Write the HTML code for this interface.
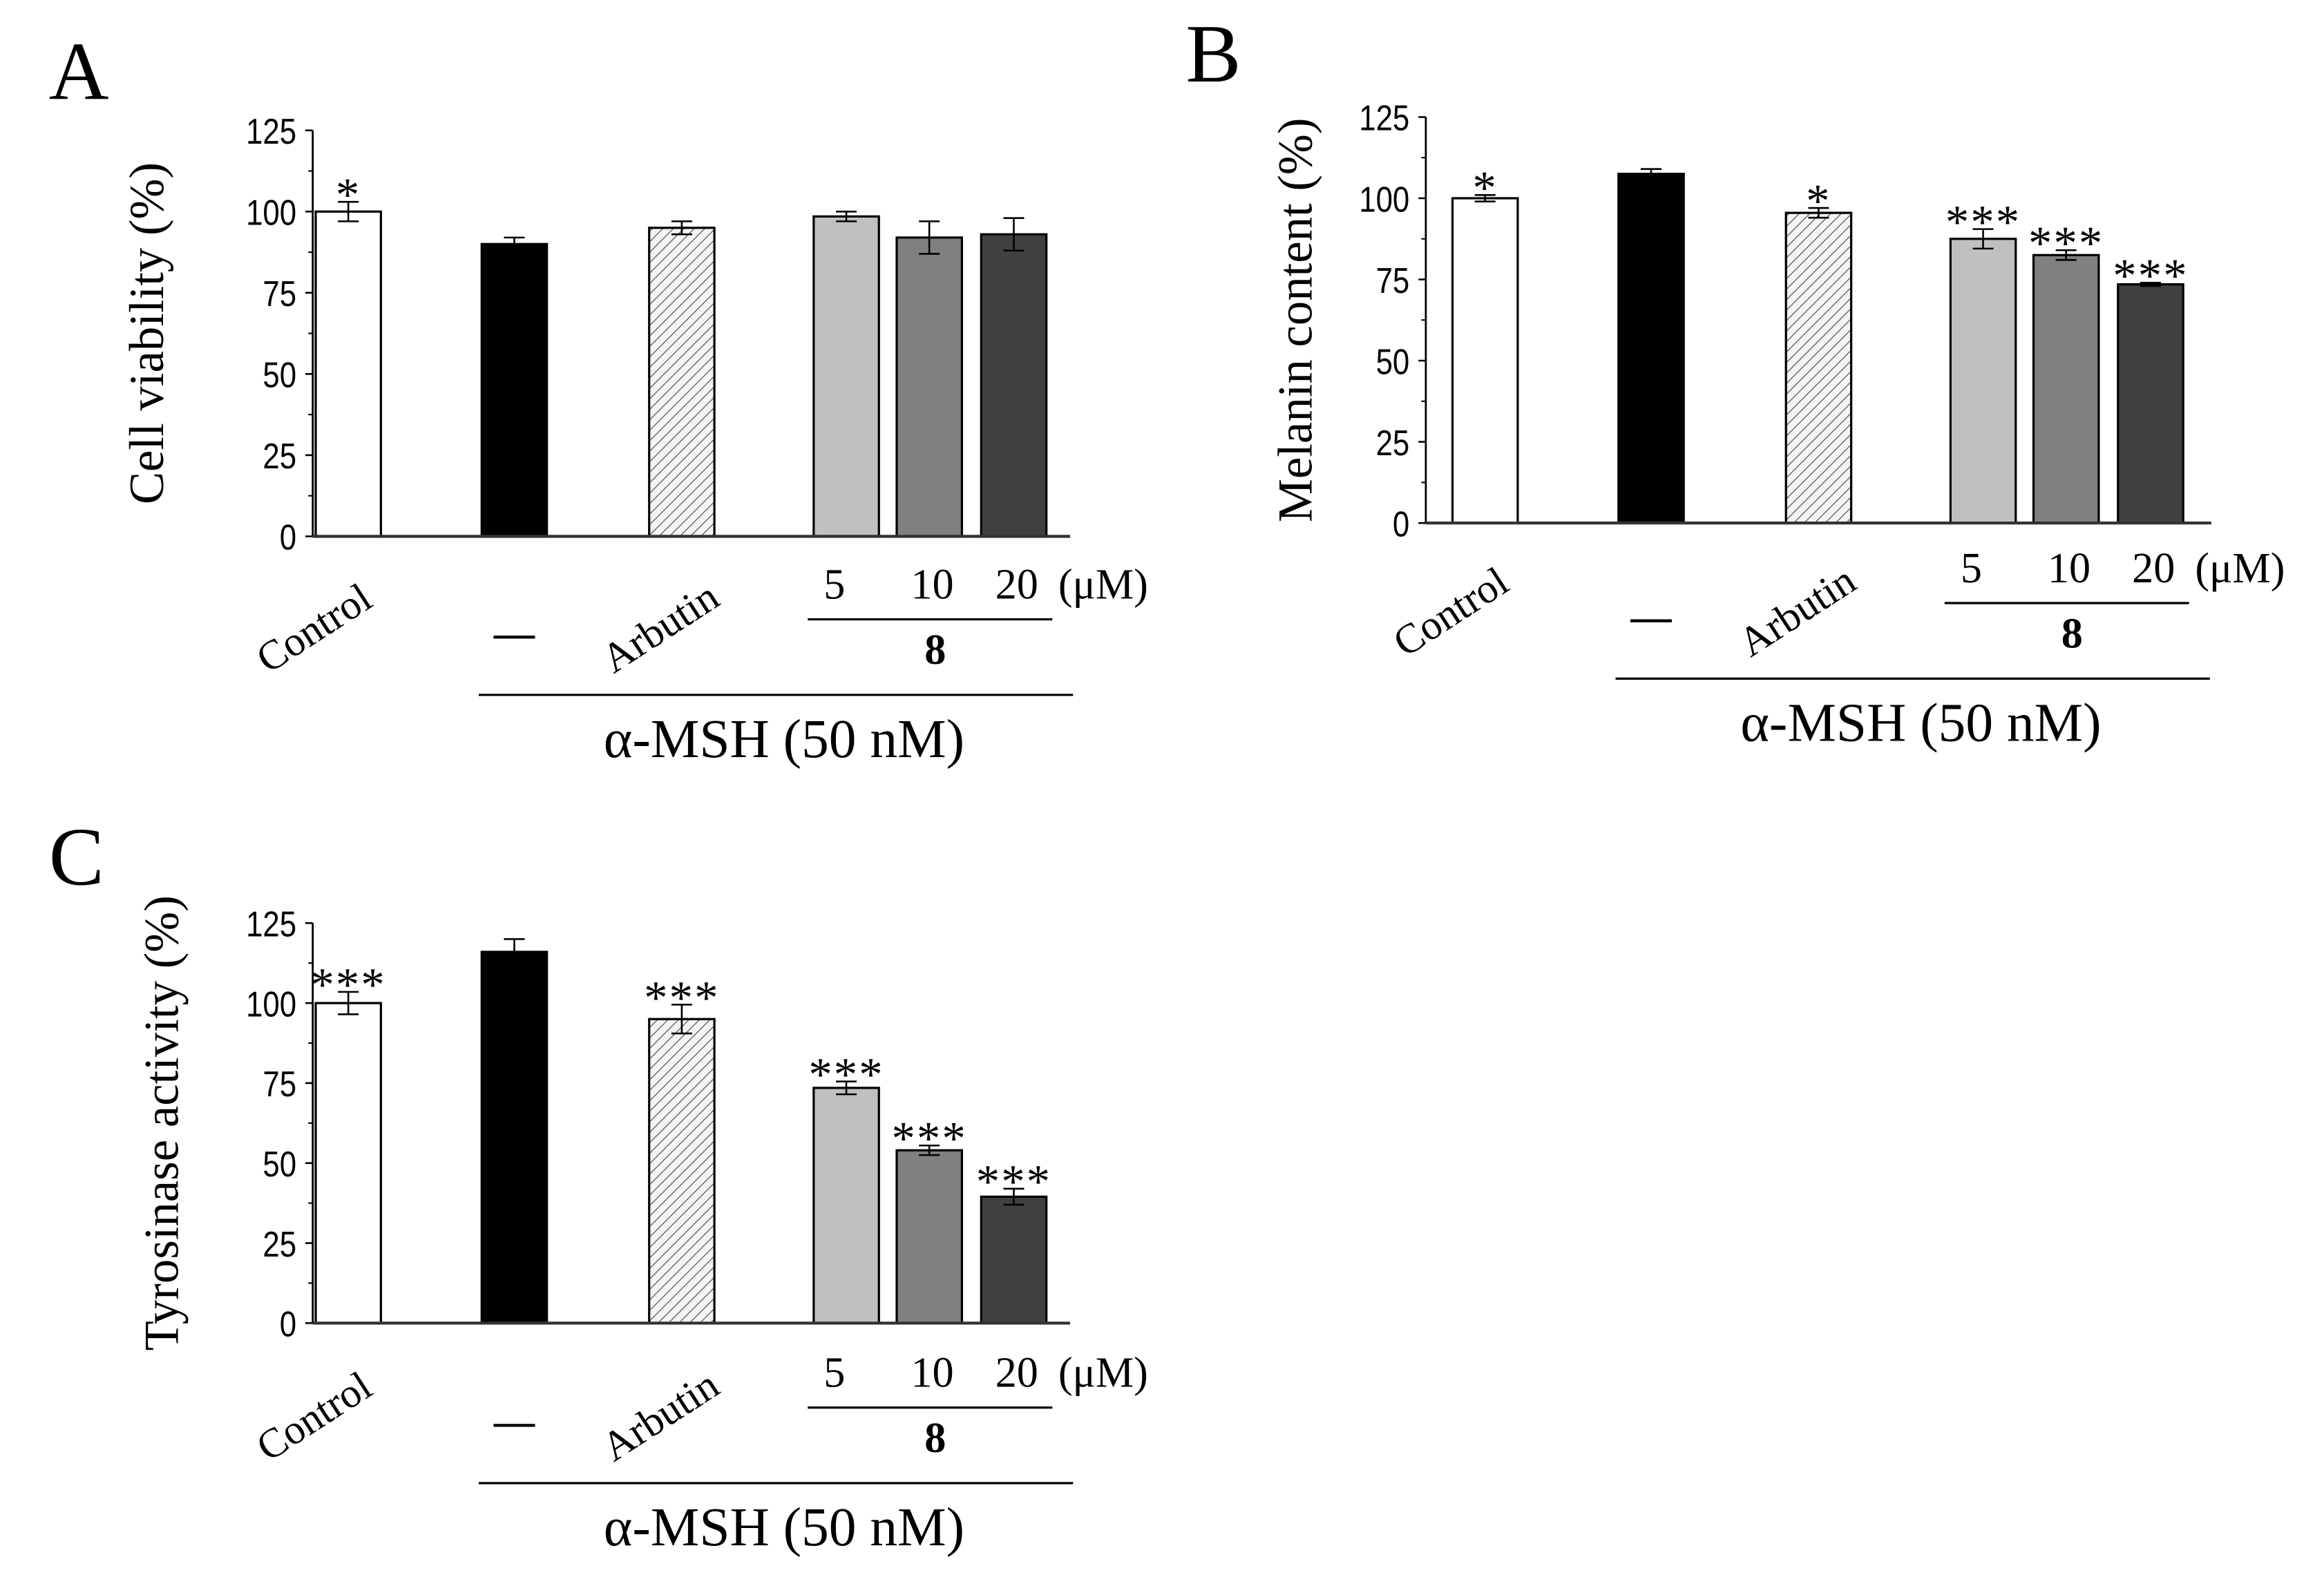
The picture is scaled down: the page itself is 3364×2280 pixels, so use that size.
<!DOCTYPE html>
<html><head><meta charset="utf-8"><style>
html,body{margin:0;padding:0;background:#fff;}
svg{display:block;}
text{font-family:"Liberation Serif",serif;fill:#000;}
.tick{font-family:"Liberation Sans",sans-serif;font-size:24px;}
</style></head><body>
<svg id="fig" width="3364" height="2280" viewBox="0 0 1568 1063" preserveAspectRatio="none" xmlns="http://www.w3.org/2000/svg">
<defs>
<pattern id="hatch" patternUnits="userSpaceOnUse" width="5" height="5" patternTransform="rotate(45)">
<rect width="5" height="5" fill="#f4f4f4"/><line x1="0" y1="0" x2="0" y2="5" stroke="#666" stroke-width="1.3"/>
</pattern>
</defs>
</svg>
<script>
const yTicks=[0,25,50,75,100,125];
const categories=["Control","—","Arbutin","5","10","20"];
const valuesA=[100,90,95,98.5,92,93];
const errorsA=[3,2,2,1.5,5,5];
const starsA=["*","","","","",""];
const valuesB=[100,107.5,95.5,87.5,82.5,73.5];
const errorsB=[1,1.5,1.5,3,1.5,0.5];
const starsB=["*","","*","***","***","***"];
const valuesC=[100,116,95,73.5,54,39.5];
const errorsC=[3.5,4,4.5,2,1.5,2.5];
const starsC=["***","","***","***","***","***"];
const titles=["Cell viability (%)","Melanin content (%)","Tyrosinase activity (%)"];

const svg=document.getElementById('fig');
const NS="http://www.w3.org/2000/svg";
function el(tag,attrs,parent,txt){const e=document.createElementNS(NS,tag);for(const k in attrs)e.setAttribute(k,attrs[k]);if(txt!==undefined)e.textContent=txt;(parent||svg).appendChild(e);return e;}
const fills=["#fff","#000","url(#hatch)","#c0c0c0","#808080","#404040"];
const offsets=[24,136,249,360,416,473];

function panel(id,letter,lx,ly,ox,y0,y125,axEnd,vals,errs,stars,title,titleX,lab,dx){
  const g=el('g',{});
  
  
  const yS=v=>y0-(y0-y125)*v/125;
  const L=el('text',{x:lx,y:ly,'font-size':56},g,letter);
  
  
  const ya=el('line',{x1:ox,y1:y125,x2:ox,y2:y0,stroke:'#000','stroke-width':1.3},g);
  
  
  for(let i=0;i<yTicks.length;i++){
    const y=yS(yTicks[i]);
    el('line',{x1:ox-5,y1:y,x2:ox,y2:y,stroke:'#000','stroke-width':1.2},g);
    const t=el('text',{x:ox-11,y:y+9,'text-anchor':'end',class:'tick',transform:`scale(0.85 1) translate(${(ox-11)*(1/0.85-1)} 0)`},g,yTicks[i]);
    
    
    if(i<yTicks.length-1){const ym=yS(yTicks[i]+12.5);el('line',{x1:ox-3,y1:ym,x2:ox,y2:ym,stroke:'#000','stroke-width':1},g);}
  }
  const yt=el('text',{x:titleX,y:(y0+y125)/2,'text-anchor':'middle','font-size':33,transform:`rotate(-90 ${titleX} ${(y0+y125)/2})`},g,title);
  
  
  for(let i=0;i<vals.length;i++){
    const x=ox+offsets[i]+dx-22, w=44, yv=yS(vals[i]);
    const b=el('rect',{x:x,y:yv,width:w,height:y0-yv,fill:fills[i],stroke:'#000','stroke-width':1.5},g);
    
    
    const cx=x+w/2, yt1=yS(vals[i]+errs[i]), yb=yS(vals[i]-errs[i]);
    const eb=el('path',{d:`M${cx-7},${yt1}H${cx+7}M${cx},${yt1}V${yb}M${cx-7},${yb}H${cx+7}`,stroke:'#000','stroke-width':1.2,fill:'none'},g);
    
    
    if(stars[i]){const s=el('text',{x:cx,y:yt1+6,'text-anchor':'middle','font-size':32,'letter-spacing':1,'font-family':'Liberation Sans'},g,stars[i]);
      
      }
  }
  const xa=el('line',{x1:ox,y1:y0,x2:axEnd,y2:y0,stroke:'#333','stroke-width':2},g);
  
  
  const ox2=ox+dx;
  const cc=el('text',{x:ox2-30,y:lab+52,'font-size':28,transform:`rotate(-33 ${ox2-30} ${lab+52})`},g,categories[0]);
  
  el('line',{x1:ox2+122,y1:lab+27,x2:ox2+150,y2:lab+27,stroke:'#000','stroke-width':2},g);
  const ar=el('text',{x:ox2+203,y:lab+52,'font-size':28,transform:`rotate(-33 ${ox2+203} ${lab+52})`},g,categories[2]);
  
  for(let i=3;i<6;i++){const t=el('text',{x:ox2+offsets[i]-8+(i==3?0:10),y:lab+1,'text-anchor':'middle','font-size':29},g,categories[i]);
    }
  el('text',{x:ox2+503,y:lab+1,'font-size':29},g,'(μM)');
  el('line',{x1:ox2+334,y1:lab+15,x2:ox2+499,y2:lab+15,stroke:'#000','stroke-width':1.5},g);
  const c8=el('text',{x:ox2+420,y:lab+45,'text-anchor':'middle','font-size':29,'font-weight':'bold'},g,'8');
  
  el('line',{x1:ox2+112,y1:lab+66,x2:ox2+513,y2:lab+66,stroke:'#000','stroke-width':1.5},g);
  const m=el('text',{x:ox2+318,y:lab+108,'text-anchor':'middle','font-size':37},g,'α-MSH (50 nM)');
  
}
panel('a','A',33,67,211,362,88,722,valuesA,errorsA,starsA,titles[0],110,403,0);
panel('b','B',800,55,962,353,79,1492,valuesB,errorsB,starsB,titles[1],885,392,16);
panel('c','C',33,597,211,893,623,722,valuesC,errorsC,starsC,titles[2],120,935,0);
</script>
</body></html>
